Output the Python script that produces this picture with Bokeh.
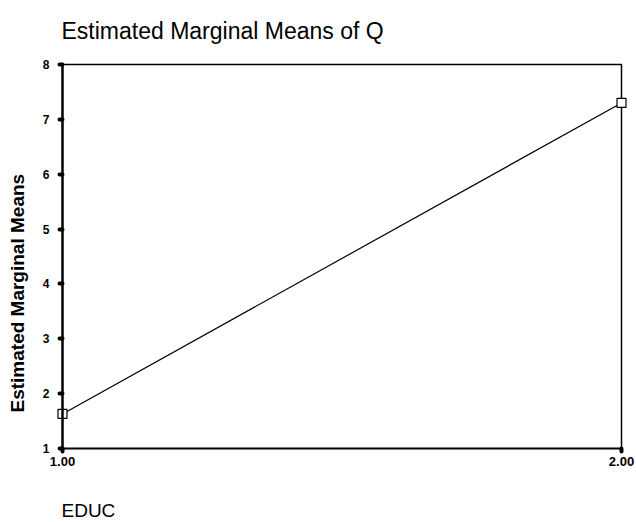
import math
from bokeh.plotting import figure
from bokeh.models import Range1d, FixedTicker, LinearAxis, Label
from bokeh.embed import file_html
from bokeh.resources import INLINE

# Data
educ = [1, 2]
means = [1.63, 7.30]
y_ticks = [1, 2, 3, 4, 5, 6, 7, 8]
x_ticks = [1, 2]
x_tick_labels = ["1.00", "2.00"]

FONT = "Liberation Sans"
W, H = 636, 522
# pixel positions of the axis box on the canvas
AX_LEFT, AX_RIGHT, AX_TOP, AX_BOTTOM = 62, 621, 64, 448

x0, x1 = x_ticks[0], x_ticks[-1]
y0, y1 = y_ticks[0], y_ticks[-1]
ppx = (AX_RIGHT - AX_LEFT) / (x1 - x0)
ppy = (AX_BOTTOM - AX_TOP) / (y1 - y0)
x_range = Range1d(x0 - AX_LEFT / ppx, x1 + (W - AX_RIGHT) / ppx)
y_range = Range1d(y0 - (H - AX_BOTTOM) / ppy, y1 + AX_TOP / ppy)

p = figure(width=W, height=H, output_backend="svg", toolbar_location=None,
           x_range=x_range, y_range=y_range, title=None,
           x_axis_location=None, y_axis_location=None,
           min_border_left=0, min_border_right=0, min_border_top=0, min_border_bottom=0)

p.background_fill_color = "white"
p.border_fill_color = "white"
p.grid.visible = False
p.outline_line_color = None

# top and right frame borders
p.line([x0, x1, x1], [y1, y1, y0], line_color="black", line_width=1.5)

p.line(educ, means, line_color="black", line_width=1.2)
p.scatter(educ, means, marker="square", size=9, fill_color="white",
          line_color="black", line_width=1.2)

# Axes fixed at the data edges
xa = LinearAxis(fixed_location=y0, bounds=(x0, x1), ticker=FixedTicker(ticks=x_ticks),
                major_label_overrides={t: l for t, l in zip(x_ticks, x_tick_labels)},
                axis_line_width=2, axis_line_color="black",
                major_tick_in=0, major_tick_out=3, major_tick_line_width=4,
                major_tick_line_color="black", major_tick_line_cap="round",
                minor_tick_line_color=None,
                major_label_text_font=FONT, major_label_text_font_style="bold",
                major_label_text_font_size="13px", major_label_text_color="black",
                major_label_standoff=5)
p.add_layout(xa, "below")

ya = LinearAxis(fixed_location=x0, bounds=(y0, y1), ticker=FixedTicker(ticks=y_ticks),
                axis_line_width=2.5, axis_line_color="black",
                major_tick_in=0, major_tick_out=3, major_tick_line_width=4,
                major_tick_line_color="black", major_tick_line_cap="round",
                minor_tick_line_color=None,
                major_label_text_font=FONT, major_label_text_font_style="bold",
                major_label_text_font_size="12px", major_label_text_color="black",
                major_label_standoff=10)
p.add_layout(ya, "left")

# Title
title = Label(x=x0, y=y1, x_offset=-1, y_offset=34, text="Estimated Marginal Means of Q",
              text_font=FONT, text_font_size="23px", text_color="black",
              text_align="left", text_baseline="middle")
p.add_layout(title)

# Y axis title
ylab = Label(x=x0, y=y0, x_offset=-45, y_offset=36, angle=math.pi / 2,
             text="Estimated Marginal Means", text_font=FONT, text_font_style="bold",
             text_font_size="19px", text_color="black",
             text_align="left", text_baseline="middle")
p.add_layout(ylab)

# X axis title
xlab = Label(x=x0, y=y0, x_offset=-1, y_offset=-62, text="EDUC", text_font=FONT,
             text_font_size="19px", text_color="black",
             text_align="left", text_baseline="middle")
p.add_layout(xlab)

open("out.html", "w").write(file_html(p, INLINE))
